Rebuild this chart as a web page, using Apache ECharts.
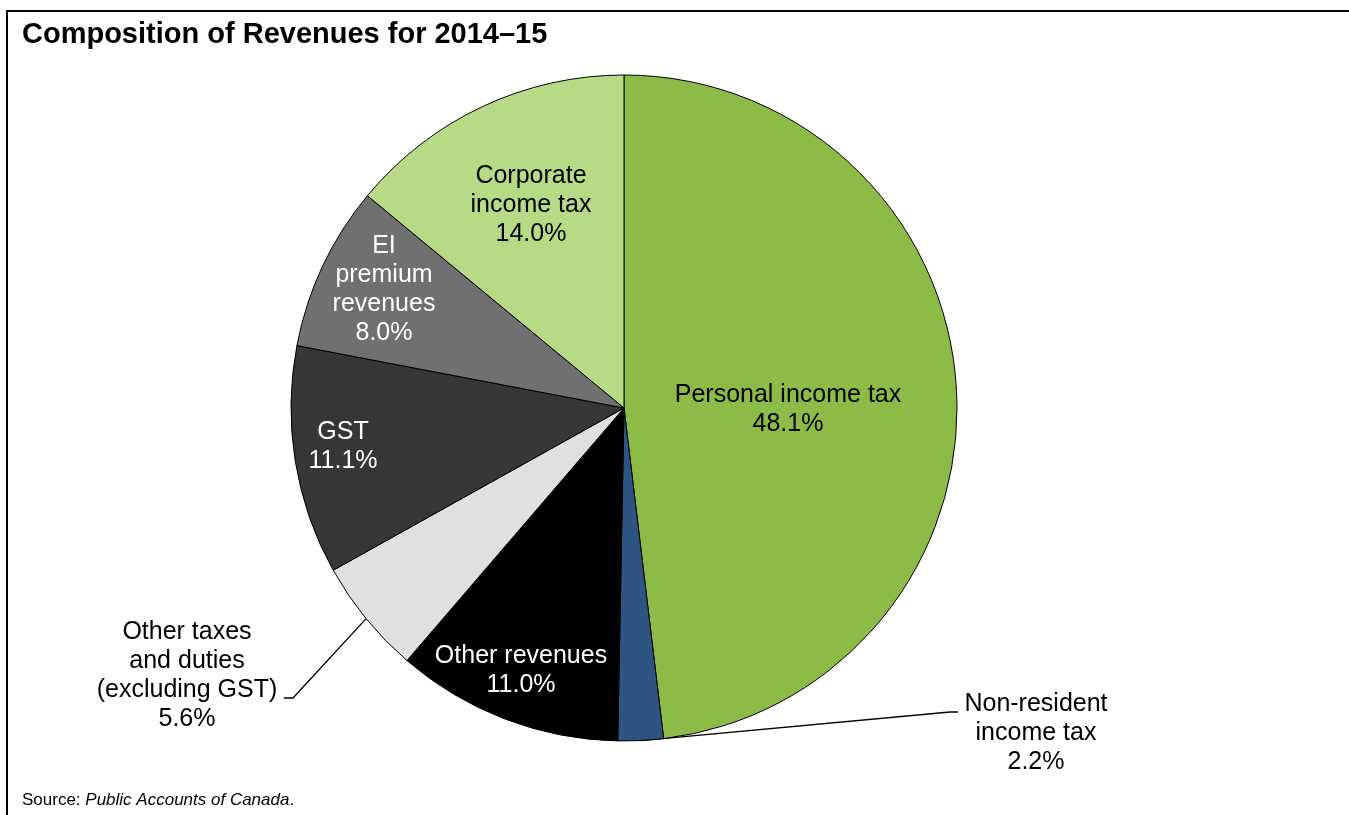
<!DOCTYPE html>
<html>
<head>
<meta charset="utf-8">
<title>Composition of Revenues for 2014–15</title>
<script src="https://cdn.jsdelivr.net/npm/echarts@6/dist/echarts.min.js"></script>
<style>
  html, body { margin: 0; padding: 0; background: #ffffff; }
  #chart { width: 1349px; height: 815px; }
</style>
</head>
<body>
<div id="chart"></div>
<script>
// Revenue categories, clockwise from 12 o'clock
const categories = [
  'Personal income tax',
  'Non-resident income tax',
  'Other revenues',
  'Other taxes and duties (excluding GST)',
  'GST',
  'EI premium revenues',
  'Corporate income tax'
];
// Share of total revenues, per cent
const shares = [48.1, 2.2, 11.0, 5.6, 11.1, 8.0, 14.0];
// Label wording, broken over lines
const labelText = [
  'Personal income tax',
  'Non-resident\nincome tax',
  'Other revenues',
  'Other taxes\nand duties\n(excluding GST)',
  'GST',
  'EI\npremium\nrevenues',
  'Corporate\nincome tax'
];

const sliceColors = ['#8DBB48', '#2E5482', '#000000', '#E0E0E0', '#363636', '#707070', '#B7DA87'];
const labelColors = ['#000000', '#000000', '#FFFFFF', '#000000', '#FFFFFF', '#FFFFFF', '#000000'];
const calloutSlices = [1, 3];

// Where each label block is centred, and the bend points of the callout lines
const labelSpots = [[788, 410], [1036, 733], [521, 671], [187, 676], [343, 447], [384, 290], [531, 205]];
const calloutElbows = {
  1: [[950, 712], [958, 712]],
  3: [[293, 698], [284, 698]]
};

const FONT = '"Liberation Sans", Arial, Helvetica, sans-serif';

const pieData = categories.map((name, i) => {
  const outside = calloutSlices.indexOf(i) >= 0;
  return {
    name: name,
    value: shares[i],
    itemStyle: { color: sliceColors[i] },
    label: {
      position: outside ? 'outside' : 'inside',
      color: labelColors[i]
    },
    labelLine: { show: outside }
  };
});

const chart = echarts.init(document.getElementById('chart'), null, { renderer: 'canvas' });

chart.setOption({
  backgroundColor: '#ffffff',
  animation: false,
  title: [
    {
      text: 'Composition of Revenues for 2014–15',
      left: 22,
      top: 20,
      padding: 0,
      textStyle: { fontFamily: FONT, fontSize: 29, fontWeight: 'bold', color: '#000000', lineHeight: 30 }
    },
    {
      text: '{n|Source: }{i|Public Accounts of Canada}{n|.}',
      left: 22,
      top: 792,
      padding: 0,
      textStyle: {
        fontWeight: 'normal',
        rich: {
          n: { fontFamily: FONT, fontSize: 17, fontWeight: 'normal', color: '#000000' },
          i: { fontFamily: FONT, fontSize: 17, fontWeight: 'normal', fontStyle: 'italic', color: '#000000' }
        }
      }
    }
  ],
  graphic: [
    { type: 'line', silent: true, shape: { x1: 6, y1: 11, x2: 1349, y2: 11 }, style: { stroke: '#000000', lineWidth: 2 } },
    { type: 'line', silent: true, shape: { x1: 7, y1: 10, x2: 7, y2: 815 }, style: { stroke: '#000000', lineWidth: 2 } }
  ],
  series: [
    {
      type: 'pie',
      center: [624, 408],
      radius: [0, 333],
      startAngle: 90,
      clockwise: true,
      avoidLabelOverlap: false,
      silent: true,
      emphasis: { disabled: true },
      itemStyle: { borderColor: '#000000', borderWidth: 1 },
      label: {
        fontFamily: FONT,
        fontSize: 25,
        lineHeight: 29,
        overflow: 'none',
        formatter: p => labelText[p.dataIndex] + '\n' + p.value.toFixed(1) + '%'
      },
      labelLine: {
        length: 20,
        length2: 10,
        lineStyle: { color: '#000000', width: 1.3 }
      },
      labelLayout: function (params) {
        const spot = labelSpots[params.dataIndex];
        const out = { x: spot[0], y: spot[1], align: 'center', verticalAlign: 'middle' };
        const elbows = calloutElbows[params.dataIndex];
        if (elbows && params.labelLinePoints) {
          out.labelLinePoints = [params.labelLinePoints[0]].concat(elbows);
        }
        return out;
      },
      data: pieData
    }
  ]
});
</script>
</body>
</html>
